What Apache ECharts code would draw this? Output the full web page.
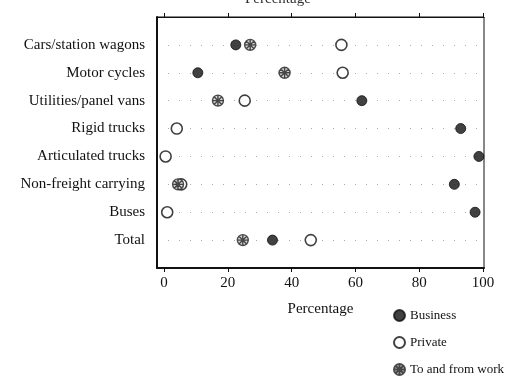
<!DOCTYPE html>
<html>
<head>
<meta charset="utf-8">
<script src="https://cdn.jsdelivr.net/npm/echarts@6/dist/echarts.min.js"></script>
<style>
html, body { margin: 0; padding: 0; background: #fff; }
#chart { width: 506px; height: 387px; }
</style>
</head>
<body>
<div id="chart"></div>
<script>
// row labels, top to bottom
var categories = ['Cars/station wagons', 'Motor cycles', 'Utilities/panel vans', 'Rigid trucks',
    'Articulated trucks', 'Non-freight carrying', 'Buses', 'Total'];
// percentages
var business = [22.5, 10.6, 62, 93, 98.7, 91, 97.5, 34];
var privateUse = [55.6, 56, 25.3, 4, 0.5, 5.4, 1, 46];
var toFromWork = [27, 37.8, 16.9, null, null, 4.4, null, 24.7];
var xTicks = [0, 20, 40, 60, 80, 100];

function toPoints(arr) {
    var out = [];
    for (var i = 0; i < arr.length; i++) {
        if (arr[i] != null) out.push([arr[i], i]);
    }
    return out;
}

var serif = '"Liberation Serif", "DejaVu Serif", serif';
var workSymbol = 'path://M0,10 A10,10 0 1,1 20,10 A10,10 0 1,1 0,10 Z M3.5,3.5 L16.5,16.5 M16.5,3.5 L3.5,16.5 M10,1 L10,19 M1,10 L19,10';

var myChart = echarts.init(document.getElementById('chart'));
myChart.setOption({
    animation: false,
    backgroundColor: '#fff',
    grid: { left: 157, right: 22, top: 17, bottom: 119, show: true, borderColor: '#111', borderWidth: 1 },
    graphic: [{
        type: 'text', left: 245, top: -8,
        style: { text: 'Percentage', font: '15px ' + serif, fill: '#333' }
    }],
    legend: {
        orient: 'vertical', left: 388, top: 304, itemGap: 14,
        itemWidth: 11, itemHeight: 11,
        textStyle: { fontFamily: serif, fontSize: 13, color: '#111', padding: [7, 0, 0, 0] },
        data: ['Business', 'Private', 'To and from work']
    },
    xAxis: [{
        type: 'value', min: -2.2, max: 100.3,
        name: 'Percentage', nameLocation: 'middle', nameGap: 34,
        nameTextStyle: { fontFamily: serif, fontSize: 15, color: '#111' },
        axisLine: { show: true, onZero: false, lineStyle: { color: '#111', width: 2 } },
        axisTick: { show: true, length: 4, customValues: xTicks, lineStyle: { color: '#111' } },
        axisLabel: { customValues: xTicks, fontFamily: serif, fontSize: 15, color: '#111', margin: 8 },
        splitLine: { show: false }
    }, {
        type: 'value', position: 'top', min: -2.2, max: 100.3,
        axisLine: { show: true, onZero: false, lineStyle: { color: '#111', width: 1 } },
        axisTick: { show: true, length: 4, customValues: xTicks, lineStyle: { color: '#111' } },
        axisLabel: { show: false },
        splitLine: { show: false }
    }],
    yAxis: {
        type: 'value', inverse: true, min: -1, max: 8, interval: 1,
        axisLine: { show: true, onZero: false, lineStyle: { color: '#111', width: 2 } },
        axisTick: { show: false },
        axisLabel: {
            fontFamily: serif, fontSize: 15, color: '#111', margin: 12,
            formatter: function (v) { return categories[Math.round(v)] || ''; }
        },
        splitLine: { show: true, lineStyle: { color: '#aaa', width: 1, type: [1, 10] } }
    },
    series: [{
        name: 'Business', type: 'scatter', symbol: 'circle', symbolSize: 10,
        itemStyle: { color: '#111', borderColor: '#111', borderWidth: 1 },
        data: toPoints(business), z: 3
    }, {
        name: 'Private', type: 'scatter', symbol: 'circle', symbolSize: 11,
        itemStyle: { color: '#fff', borderColor: '#111', borderWidth: 1.6 },
        data: toPoints(privateUse), z: 2
    }, {
        name: 'To and from work', type: 'scatter', symbol: workSymbol, symbolSize: 11,
        itemStyle: { color: '#ccc', borderColor: '#222', borderWidth: 1.4 },
        data: toPoints(toFromWork), z: 4
    }]
});
</script>
</body>
</html>
